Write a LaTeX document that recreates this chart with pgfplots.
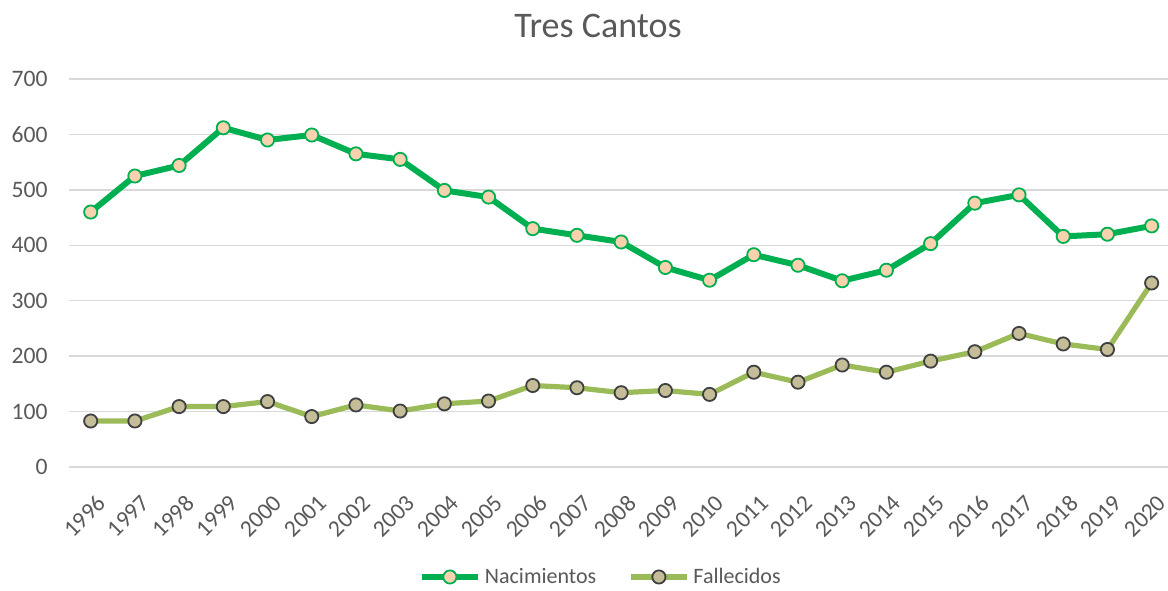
\documentclass[border=0pt]{standalone}
\usepackage{pgfplots}
\pgfplotsset{compat=1.18}
\usepackage{fontspec}
\setmainfont{Carlito}
\definecolor{txt}{HTML}{595959}
\definecolor{gridc}{HTML}{D9D9D9}
\definecolor{nac}{HTML}{00B050}
\definecolor{nacfill}{HTML}{F8D1AE}
\definecolor{fal}{HTML}{9BBB59}
\definecolor{falfill}{HTML}{C4BD97}
\definecolor{faledge}{HTML}{404040}
\begin{document}
\begin{tikzpicture}
\useasboundingbox (0,0) rectangle (584pt,295pt);
\node[text=txt, font=\fontsize{18}{20}\selectfont] at (299pt,282pt) {Tres Cantos};
\begin{axis}[
  at={(34.3pt,61.5pt)}, anchor=south west,
  width=549.7pt, height=194pt, scale only axis,
  xmin=-0.5, xmax=24.37, ymin=0, ymax=700,
  ytick={0,100,...,700},
  xtick={0,...,24},
  xticklabels={1996,1997,1998,1999,2000,2001,2002,2003,2004,2005,2006,2007,2008,2009,2010,2011,2012,2013,2014,2015,2016,2017,2018,2019,2020},
  axis line style={draw=none},
  major tick length=0pt,
  ymajorgrids, xmajorgrids=false, grid style={draw=gridc, line width=0.75pt},
  /pgf/number format/assume math mode=true,
  tick label style={text=txt, font=\fontsize{11.8}{13}\selectfont},
  yticklabel style={anchor=east, xshift=-7pt},
  xticklabel style={rotate=45, anchor=north east, inner sep=0pt, yshift=-11pt, xshift=-7.5pt},
  legend columns=2,
  legend style={draw=none, at={(0.485,-0.2835)}, anchor=center, font=\fontsize{11}{13}\selectfont, text=txt, /tikz/every even column/.append style={column sep=14pt}},
  legend image code/.code={\draw[mark repeat=2,mark phase=2,#1] plot coordinates {(0pt,0pt)(14pt,0pt)(28pt,0pt)};},
  clip=false,
]
\addplot[nac, line width=3pt, mark=*, mark size=3.3pt, mark options={fill=nacfill, draw=nac, line width=0.9pt}] coordinates {
(0,460)(1,525)(2,544)(3,612)(4,590)(5,599)(6,565)(7,555)(8,499)(9,487)(10,430)(11,418)(12,406)(13,360)(14,337)(15,383)(16,364)(17,336)(18,355)(19,403)(20,476)(21,491)(22,416)(23,420)(24,435)};
\addlegendentry{Nacimientos}
\addplot[fal, line width=2.6pt, mark=*, mark size=3.3pt, mark options={fill=falfill, draw=faledge, line width=0.9pt}] coordinates {
(0,83)(1,83)(2,109)(3,109)(4,118)(5,91)(6,112)(7,101)(8,114)(9,119)(10,147)(11,143)(12,134)(13,138)(14,131)(15,171)(16,153)(17,184)(18,171)(19,191)(20,208)(21,241)(22,222)(23,212)(24,332)};
\addlegendentry{Fallecidos}
\end{axis}
\end{tikzpicture}
\end{document}
